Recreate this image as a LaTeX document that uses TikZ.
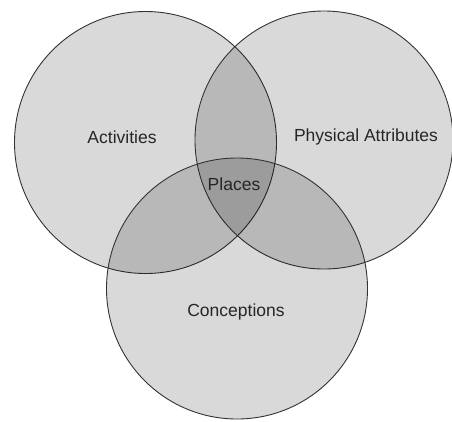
\documentclass[tikz,border=0pt]{standalone}
\usepackage{fontspec}
\setmainfont{Liberation Sans}
\tikzset{
  set/.style={shape=circle, draw=black!80, line width=0.9pt, fill=black, fill opacity=0.15, text opacity=1, inner sep=0pt},
  setlabel/.style={font=\fontsize{17.5}{20}\selectfont, text=black!85}
}
\begin{document}
\begin{tikzpicture}[x=1pt, y=-1pt]
  \useasboundingbox (0, 0) rectangle (452, 421);
  \fill[white] (0, 0) rectangle (452, 421);
  \node[set, minimum size=262pt] (A) at (145.5, 142.5) {};
  \node[set, minimum size=258pt] (B) at (324, 140) {};
  \node[set, minimum size=261pt] (C) at (237, 288.5) {};
  \node[setlabel] (act) at (122, 137) {Activities};
  \node[setlabel] (phy) at (366, 137) {Physical Attributes};
  \node[setlabel] (pla) at (234, 184) {Places};
  \node[setlabel] (con) at (236, 312) {Conceptions};
\end{tikzpicture}
\end{document}
